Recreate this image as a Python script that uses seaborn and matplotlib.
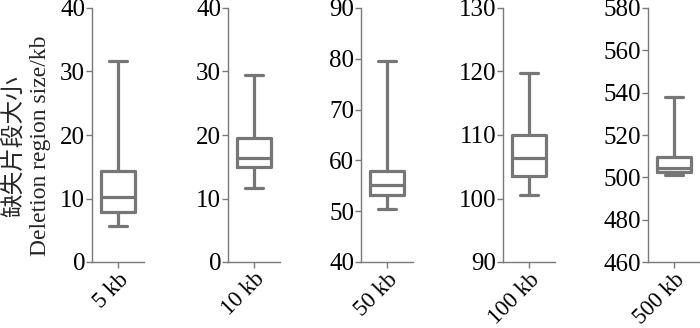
import matplotlib
matplotlib.use("Agg")
import matplotlib.pyplot as plt
import seaborn as sns
import pandas as pd
import numpy as np

sns.set_theme(style="ticks")
plt.rcParams['font.family'] = ['Liberation Serif', 'Noto Sans CJK SC']

categories = ["5 kb", "10 kb", "50 kb", "100 kb", "500 kb"]
# five-number summaries: whisker low, Q1, median, Q3, whisker high
low = [5.7, 11.7, 50.4, 100.6, 501.0]
q1 = [7.8, 14.9, 53.1, 103.6, 502.6]
median = [10.2, 16.3, 55.1, 106.4, 504.2]
q3 = [14.3, 19.6, 58.0, 110.0, 509.5]
high = [31.6, 29.4, 79.5, 119.8, 537.8]
ylims = [(0, 40), (0, 40), (40, 90), (90, 130), (460, 580)]
yticks = [[0, 10, 20, 30, 40], [0, 10, 20, 30, 40], [40, 50, 60, 70, 80, 90],
          [90, 100, 110, 120, 130], [460, 480, 500, 520, 540, 560, 580]]

line_c = "#767676"
spine_c = "#7a7a7a"

W, H = 700, 328
fig = plt.figure(figsize=(7, 3.28), dpi=100)
lefts = [92, 228, 361, 503, 648]
aw, ab, ah = 52, 66, 254

for i, cat in enumerate(categories):
    ax = fig.add_axes([lefts[i] / W, ab / H, aw / W, ah / H])
    df = pd.DataFrame({"group": [cat] * 5,
                       "size": [low[i], q1[i], median[i], q3[i], high[i]]})
    sns.boxplot(data=df, x="group", y="size", ax=ax, whis=(0, 100),
                width=0.67, fill=False, color=line_c, linecolor=line_c,
                linewidth=2.3, showfliers=False)
    ax.set_xlim(-0.5, 0.5)
    ax.set_ylim(*ylims[i])
    ax.set_yticks(yticks[i])
    ax.set_xlabel("")
    ax.set_ylabel("")
    for s in ["top", "right"]:
        ax.spines[s].set_visible(False)
    for s in ["left", "bottom"]:
        ax.spines[s].set_color(spine_c)
        ax.spines[s].set_linewidth(1.0)
    ax.tick_params(axis="both", colors=spine_c, labelcolor="black",
                   length=4, width=1.0, pad=1, labelsize=18)
    ax.tick_params(axis="x", labelsize=16.5)
    ax.set_xticks([0])
    ax.set_xticklabels([cat], rotation=45, ha="right", rotation_mode="anchor")

fig.text(27 / W, 0.555, "缺失片段大小\nDeletion region size/kb", rotation=90,
         ha="center", va="center", multialignment="center", fontsize=17,
         linespacing=1.3)

fig.savefig("out.png", dpi=100)
